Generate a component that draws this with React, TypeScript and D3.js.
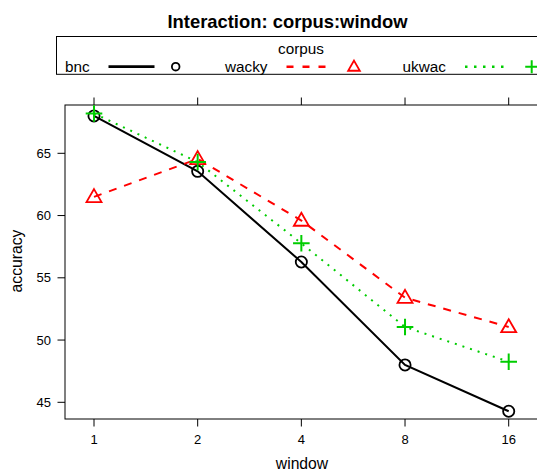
import React from "react";
import * as d3 from "d3";

const windows = [1, 2, 4, 8, 16];
const windowLabels = ["1", "2", "4", "8", "16"];
const bnc = [68.0, 63.55, 56.27, 48.0, 44.28];
const wacky = [61.5, 64.55, 59.6, 53.4, 51.05];
const ukwac = [68.2, 64.3, 57.77, 51.05, 48.26];
const yTicks = [45, 50, 55, 60, 65];
const seriesNames = ["bnc", "wacky", "ukwac"];

const W = 537;
const H = 472;
const FONT = "'Liberation Sans', Arial, Helvetica, sans-serif";

const RED = "#FF0000";
const GREEN = "#00CD00";

function Marker({ kind, x, y, color, size = 1 }: { kind: string; x: number; y: number; color: string; size?: number }) {
  if (kind === "circle") {
    return <circle cx={x} cy={y} r={5.6 * size} fill="none" stroke={color} strokeWidth={1.8} />;
  }
  if (kind === "triangle") {
    const h = 13 * size;
    const w = 15 * size;
    const p = `M${x},${y - h * 0.6} L${x + w / 2},${y + h * 0.4} L${x - w / 2},${y + h * 0.4} Z`;
    return <path d={p} fill="none" stroke={color} strokeWidth={1.8} />;
  }
  const s = 8.3 * size;
  return (
    <path d={`M${x - s},${y} L${x + s},${y} M${x},${y - s} L${x},${y + s}`} stroke={color} strokeWidth={2} fill="none" />
  );
}

export default function App() {
  const x = d3.scaleLog().base(2).domain([1, 16]).range([94, 508.7]);
  const y = d3.scaleLinear().domain([45, 65]).range([402.3, 153.3]);
  const box = { x0: 65, x1: 540, y0: 105, y1: 419 };

  const line = d3
    .line<number>()
    .x((_, i) => x(windows[i]))
    .y((d) => y(d));

  const series = [
    { name: seriesNames[0], vals: bnc, color: "#000000", dash: undefined as string | undefined, kind: "circle", cap: "butt" },
    { name: seriesNames[1], vals: wacky, color: RED, dash: "8,8", kind: "triangle", cap: "butt" },
    { name: seriesNames[2], vals: ukwac, color: GREEN, dash: "2,6", kind: "plus", cap: "butt" },
  ];

  const legendY = 66.7;
  const legendItems = [
    { textX: 65, lineX0: 108.5, lineX1: 154.5, markX: 175.7 },
    { textX: 225, lineX0: 286.5, lineX1: 326, markX: 354 },
    { textX: 402.5, lineX0: 465, lineX1: 507, markX: 531.7 },
  ];

  return (
    <svg width={W} height={H} style={{ position: "absolute", left: 0, top: 0, background: "#fff" }} fontFamily={FONT}>
      <rect x={0} y={0} width={W} height={H} fill="#fff" />
      <text x={287.5} y={28.3} textAnchor="middle" fontWeight="bold" fontSize={18.4} fill="#000">
        Interaction: corpus:window
      </text>

      {/* legend */}
      <rect x={56.5} y={36.5} width={500} height={37.8} fill="none" stroke="#000" strokeWidth={1} />
      <text x={301} y={53.5} textAnchor="middle" fontSize={15.3} fill="#000">
        corpus
      </text>
      {series.map((s, i) => {
        const li = legendItems[i];
        return (
          <g key={s.name}>
            <text x={li.textX} y={72.3} fontSize={15.3} fill="#000">
              {s.name}
            </text>
            <line
              x1={li.lineX0}
              x2={li.lineX1}
              y1={legendY}
              y2={legendY}
              stroke={s.color}
              strokeWidth={i === 0 ? 2.8 : 2.5}
              strokeDasharray={i === 1 ? "7,9" : i === 2 ? "2.5,6.5" : undefined}
            />
            <Marker kind={s.kind} x={li.markX} y={legendY} color={s.color} size={i === 0 ? 0.68 : 0.78} />
          </g>
        );
      })}

      {/* panel box */}
      <rect x={box.x0} y={box.y0} width={box.x1 - box.x0} height={box.y1 - box.y0} fill="none" stroke="#000" strokeWidth={1} />

      {/* x ticks top and bottom */}
      {windows.map((w, i) => (
        <g key={w}>
          <line x1={x(w)} x2={x(w)} y1={box.y0} y2={box.y0 - 7.5} stroke="#000" strokeWidth={1} />
          <line x1={x(w)} x2={x(w)} y1={box.y1} y2={box.y1 + 7.5} stroke="#000" strokeWidth={1} />
          <text x={x(w)} y={444} textAnchor="middle" fontSize={13} fill="#000">
            {windowLabels[i]}
          </text>
        </g>
      ))}

      {/* y ticks */}
      {yTicks.map((t) => (
        <g key={t}>
          <line x1={box.x0} x2={box.x0 - 7.5} y1={y(t)} y2={y(t)} stroke="#000" strokeWidth={1} />
          <text x={51} y={y(t)} dy="0.36em" textAnchor="end" fontSize={13} fill="#000">
            {t}
          </text>
        </g>
      ))}

      <text x={302} y={469} textAnchor="middle" fontSize={15.7} fill="#000">
        window
      </text>
      <text transform={`translate(21.5,261) rotate(-90)`} textAnchor="middle" fontSize={15.7} fill="#000">
        accuracy
      </text>

      {/* series */}
      {series.map((s) => (
        <g key={s.name}>
          <path d={line(s.vals) || ""} fill="none" stroke={s.color} strokeWidth={2} strokeDasharray={s.dash} />
          {s.vals.map((v, i) => (
            <Marker key={i} kind={s.kind} x={x(windows[i])} y={y(v)} color={s.color} />
          ))}
        </g>
      ))}
    </svg>
  );
}
